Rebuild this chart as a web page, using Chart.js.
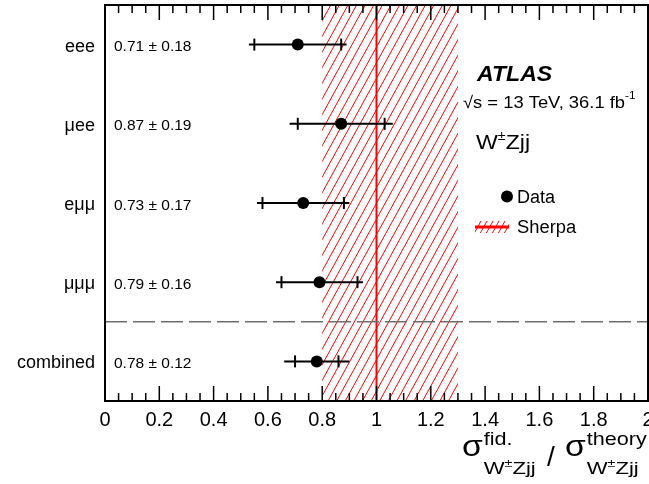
<!DOCTYPE html>
<html>
<head>
<meta charset="utf-8">
<script src="https://cdn.jsdelivr.net/npm/chart.js@4.4.1/dist/chart.umd.min.js"></script>
<style>
  html, body { margin: 0; padding: 0; background: #fff; }
  canvas { display: block; }
</style>
</head>
<body>
<canvas id="chart" width="649" height="484"></canvas>
<script>
// channels, top to bottom
const channels = ['eee', '\u03bcee', 'e\u03bc\u03bc', '\u03bc\u03bc\u03bc', 'combined'];
const ratio = [0.71, 0.87, 0.73, 0.79, 0.78];
const totalErr = [0.18, 0.19, 0.17, 0.16, 0.12];
const statErr = [0.16, 0.16, 0.15, 0.14, 0.08];
// Sherpa prediction
const theoryCentral = [1.0];
const theoryBand = [0.8, 1.3];
const xRange = [0, 2];
const majorStep = 0.2;
const minorStep = 0.05;

const FONT = '"Liberation Sans", Arial, Helvetica, sans-serif';

const errorLines = channels.map((c, i) => ({
  type: 'line',
  data: [{ x: ratio[i] - totalErr[i], y: c }, { x: ratio[i] + totalErr[i], y: c }],
  borderColor: '#000',
  borderWidth: 2,
  pointRadius: 0,
  showLine: true,
  order: 3,
}));

const statTicks = {
  type: 'scatter',
  data: channels.flatMap((c, i) => [
    { x: ratio[i] - statErr[i], y: c },
    { x: ratio[i] + statErr[i], y: c },
  ]),
  pointStyle: 'line',
  rotation: 90,
  pointRadius: 6,
  borderColor: '#000',
  borderWidth: 2,
  order: 2,
};

const points = {
  type: 'scatter',
  label: 'Data',
  data: channels.map((c, i) => ({ x: ratio[i], y: c })),
  pointRadius: 6,
  backgroundColor: '#000',
  borderWidth: 0,
  order: 1,
};

function hatch(ctx, x, y, w, h, step) {
  ctx.save();
  ctx.beginPath();
  ctx.rect(x, y, w, h);
  ctx.clip();
  ctx.strokeStyle = '#ff0000';
  ctx.lineWidth = 1;
  const slant = h * 0.55;
  ctx.beginPath();
  for (let xx = x - slant; xx < x + w + step; xx += step) {
    ctx.moveTo(xx, y + h);
    ctx.lineTo(xx + slant, y);
  }
  ctx.stroke();
  ctx.restore();
}

// text stretched sideways, returns the drawn width
function text(ctx, str, x, y, size, sx, style) {
  ctx.font = (style || '') + ' ' + size + 'px ' + FONT;
  ctx.save();
  ctx.translate(x, y);
  ctx.scale(sx, 1);
  ctx.fillText(str, 0, 0);
  ctx.restore();
  return ctx.measureText(str).width * sx;
}

const atlasPlugin = {
  id: 'atlas',
  beforeDatasetsDraw(chart) {
    const { ctx, chartArea: a, scales: { x, y } } = chart;
    // theory band
    const x0 = x.getPixelForValue(theoryBand[0]);
    const x1 = x.getPixelForValue(theoryBand[1]);
    hatch(ctx, x0, a.top, x1 - x0, a.bottom - a.top, 8.6);
    // central value
    const xc = x.getPixelForValue(theoryCentral[0]);
    ctx.save();
    ctx.strokeStyle = '#ff0000';
    ctx.lineWidth = 2;
    ctx.beginPath();
    ctx.moveTo(xc, a.top);
    ctx.lineTo(xc, a.bottom);
    ctx.stroke();
    // separator before combined
    const ys = (y.getPixelForValue(3) + y.getPixelForValue(4)) / 2;
    ctx.strokeStyle = '#6e6e6e';
    ctx.lineWidth = 1.5;
    ctx.setLineDash([22, 6]);
    ctx.beginPath();
    ctx.moveTo(a.left, ys);
    ctx.lineTo(a.right, ys);
    ctx.stroke();
    ctx.restore();
  },
  afterDatasetsDraw(chart) {
    const { ctx, chartArea: a, scales: { x, y } } = chart;
    ctx.save();
    // frame
    ctx.strokeStyle = '#000';
    ctx.lineWidth = 2;
    ctx.strokeRect(a.left, a.top, a.right - a.left, a.bottom - a.top);
    // inward ticks top and bottom
    ctx.lineWidth = 1.5;
    ctx.beginPath();
    const n = Math.round((xRange[1] - xRange[0]) / minorStep);
    for (let k = 0; k <= n; k++) {
      const v = xRange[0] + k * minorStep;
      const px = x.getPixelForValue(v);
      const isMajor = Math.abs(v / majorStep - Math.round(v / majorStep)) < 1e-6;
      const len = isMajor ? 15 : 8;
      ctx.moveTo(px, a.top);
      ctx.lineTo(px, a.top + len);
      ctx.moveTo(px, a.bottom);
      ctx.lineTo(px, a.bottom - len);
    }
    ctx.stroke();

    ctx.fillStyle = '#000';
    ctx.textBaseline = 'alphabetic';
    // x tick labels
    ctx.font = '20px ' + FONT;
    ctx.textAlign = 'center';
    x.ticks.forEach((t) => {
      ctx.fillText(String(+t.value.toFixed(1)), x.getPixelForValue(t.value), a.bottom + 25);
    });
    // channel names
    ctx.font = '18px ' + FONT;
    ctx.textAlign = 'right';
    channels.forEach((c, i) => {
      ctx.fillText(c, a.left - 10, y.getPixelForValue(i) + 7);
    });
    // value labels
    ctx.font = '15.5px ' + FONT;
    ctx.textAlign = 'left';
    channels.forEach((c, i) => {
      ctx.fillText(ratio[i].toFixed(2) + ' \u00b1 ' + totalErr[i].toFixed(2), a.left + 9, y.getPixelForValue(i) + 6.5);
    });
    ctx.restore();
  },
  afterDraw(chart) {
    const { ctx } = chart;
    const W = chart.width;
    ctx.save();
    ctx.fillStyle = '#000';
    ctx.textBaseline = 'alphabetic';
    ctx.textAlign = 'left';

    text(ctx, 'ATLAS', 477, 81, 22, 1.05, 'italic bold');

    let w = text(ctx, '\u221as = 13 TeV, 36.1 fb', 463, 108, 17, 1.08);
    text(ctx, '-1', 463 + w, 99, 11, 1.08);

    let wx = 476;
    wx += text(ctx, 'W', wx, 149, 21, 1.1);
    wx += text(ctx, '\u00b1', wx, 140, 13, 1.1);
    text(ctx, 'Zjj', wx, 149, 21, 1.1);

    // legend
    ctx.beginPath();
    ctx.arc(507, 196.5, 6, 0, Math.PI * 2);
    ctx.fill();
    text(ctx, 'Data', 517, 203, 18, 1);
    hatch(ctx, 475, 221, 34, 12, 6);
    ctx.strokeStyle = '#ff0000';
    ctx.lineWidth = 3;
    ctx.beginPath();
    ctx.moveTo(475, 227);
    ctx.lineTo(509, 227);
    ctx.stroke();
    text(ctx, 'Sherpa', 517, 233, 18, 1.02);

    // x axis title
    const part = (sup, x0) => {
      const sw = text(ctx, '\u03c3', x0, 456, 30, 1.12);
      const sx = x0 + sw + 1;
      text(ctx, sup, sx, 445, 18, 1.2);
      let px = sx;
      px += text(ctx, 'W', px, 474, 17, 1.3);
      px += text(ctx, '\u00b1', px, 467, 11, 1.3);
      text(ctx, 'Zjj', px, 474, 17, 1.3);
    };
    part('fid.', W - 187);
    text(ctx, '/', W - 102, 466, 28, 1);
    part('theory', W - 84);
    ctx.restore();
  },
};

new Chart(document.getElementById('chart'), {
  type: 'scatter',
  data: { datasets: [points, statTicks, ...errorLines] },
  options: {
    responsive: false,
    animation: false,
    devicePixelRatio: 1,
    layout: { autoPadding: false, padding: { left: 0, right: 1, top: 5, bottom: 0 } },
    plugins: { legend: { display: false }, tooltip: { enabled: false } },
    scales: {
      x: {
        type: 'linear',
        min: xRange[0],
        max: xRange[1],
        grid: { display: false, drawTicks: false },
        border: { display: false },
        ticks: { stepSize: majorStep, display: false },
        afterFit(scale) {
          scale.height = 83;
        },
      },
      y: {
        type: 'category',
        labels: channels,
        offset: true,
        grid: { display: false, drawTicks: false },
        border: { display: false },
        ticks: { display: false },
        afterFit(scale) {
          scale.width = 105;
        },
      },
    },
  },
  plugins: [atlasPlugin],
});
</script>
</body>
</html>
